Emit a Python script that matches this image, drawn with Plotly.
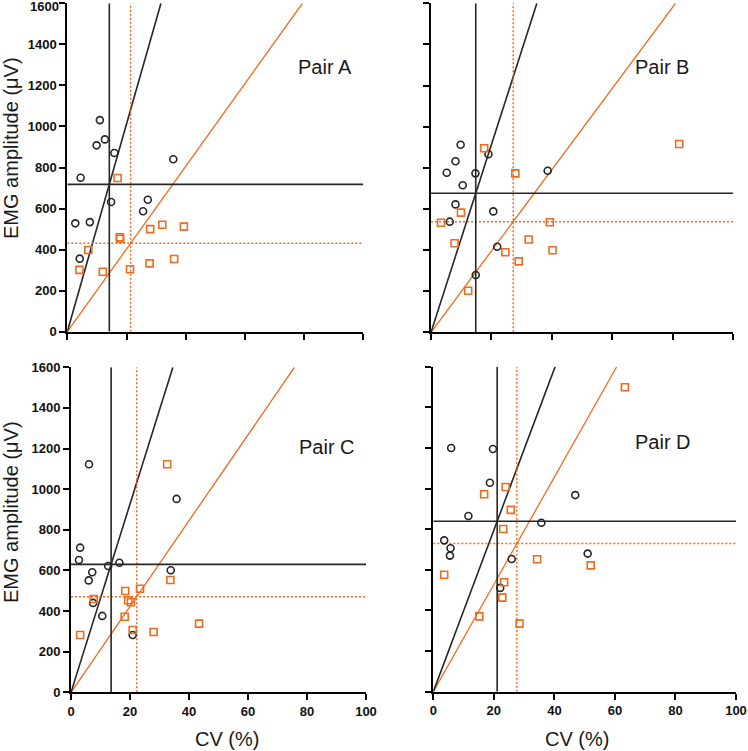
import plotly.graph_objects as go

W, H = 748, 751

# ---------------- data ----------------
panel_labels = ["Pair A", "Pair B", "Pair C", "Pair D"]
x_ticks = [0, 20, 40, 60, 80, 100]
y_ticks = [0, 200, 400, 600, 800, 1000, 1200, 1400, 1600]

# Pair A
a_circ_cv = [11.0, 12.7, 9.9, 15.9, 35.8, 4.5, 14.8, 27.2, 25.6, 2.7, 7.6, 4.2]
a_circ_amp = [1031, 937, 908, 871, 840, 750, 632, 643, 587, 528, 534, 356]
a_sq_cv = [17.0, 17.9, 17.7, 7.1, 28.0, 32.1, 39.4, 4.1, 12.0, 21.2, 27.8, 36.1]
a_sq_amp = [749, 453, 460, 398, 500, 521, 512, 301, 292, 304, 333, 354]
a_mean_black = (14.2, 718)
a_mean_orange = (21.4, 431)

# Pair B
b_circ_cv = [9.8, 19.0, 8.1, 5.2, 14.7, 38.6, 10.5, 8.1, 20.6, 6.2, 21.9, 14.8]
b_circ_amp = [912, 866, 832, 776, 773, 786, 715, 622, 588, 538, 416, 279]
b_sq_cv = [17.6, 27.9, 82.1, 9.9, 3.3, 39.3, 7.8, 32.3, 24.6, 40.2, 29.0, 12.3]
b_sq_amp = [895, 773, 916, 582, 533, 535, 433, 451, 389, 399, 345, 202]
b_mean_black = (14.8, 676)
b_mean_orange = (27.2, 538)

# Pair C
c_circ_cv = [6.1, 35.8, 3.1, 2.7, 16.4, 12.6, 33.8, 7.2, 6.0, 7.5, 10.6, 20.9]
c_circ_amp = [1123, 952, 712, 651, 638, 622, 601, 591, 551, 440, 376, 282]
c_sq_cv = [32.6, 33.7, 23.4, 18.4, 7.7, 19.4, 20.3, 18.2, 20.9, 28.0, 43.4, 3.1]
c_sq_amp = [1123, 553, 510, 499, 459, 453, 443, 372, 307, 297, 338, 282]
c_mean_black = (13.6, 630)
c_mean_orange = (22.3, 471)

# Pair D
d_circ_cv = [5.9, 19.7, 18.7, 46.9, 11.6, 35.7, 3.6, 5.7, 5.5, 51.0, 25.9, 22.1]
d_circ_amp = [1200, 1195, 1029, 968, 865, 832, 745, 706, 670, 680, 653, 511]
d_sq_cv = [63.3, 23.9, 16.8, 25.6, 23.1, 34.3, 52.0, 3.6, 23.4, 22.8, 15.2, 28.5]
d_sq_amp = [1499, 1008, 972, 895, 801, 652, 622, 576, 539, 463, 371, 335]
d_mean_black = (21.1, 839)
d_mean_orange = (27.6, 729)

panels = [
    (a_circ_cv, a_circ_amp, a_sq_cv, a_sq_amp, a_mean_black, a_mean_orange),
    (b_circ_cv, b_circ_amp, b_sq_cv, b_sq_amp, b_mean_black, b_mean_orange),
    (c_circ_cv, c_circ_amp, c_sq_cv, c_sq_amp, c_mean_black, c_mean_orange),
    (d_circ_cv, d_circ_amp, d_sq_cv, d_sq_amp, d_mean_black, d_mean_orange),
]
label_pos = [(87, 1291), (76.5, 1292), (86.7, 1209), (76, 1231)]

# ---------------- layout geometry (pixels) ----------------
px_x = [(67.3, 363.3), (431.0, 733.3), (71.0, 366.0), (433.3, 736.0)]
px_y = [(3.3, 331.7), (3.3, 332.3), (367.3, 692.3), (366.7, 691.7)]

BLACK = "#262626"
ORANGE = "#F06A1E"
XMAX, YMAX = 100, 1600

fig = go.Figure()

for i, (ccv, camp, scv, samp, mb, mo) in enumerate(panels):
    xa = "x" if i == 0 else f"x{i+1}"
    ya = "y" if i == 0 else f"y{i+1}"
    fig.add_trace(go.Scatter(x=[0, YMAX * mo[0] / mo[1]], y=[0, YMAX], mode="lines",
                             line=dict(color=ORANGE, width=1.3), xaxis=xa, yaxis=ya,
                             showlegend=False, hoverinfo="skip"))
    fig.add_trace(go.Scatter(x=[0, YMAX * mb[0] / mb[1]], y=[0, YMAX], mode="lines",
                             line=dict(color=BLACK, width=1.6), xaxis=xa, yaxis=ya,
                             showlegend=False, hoverinfo="skip"))
    fig.add_trace(go.Scatter(x=[mo[0], mo[0]], y=[0, YMAX], mode="lines",
                             line=dict(color=ORANGE, width=1.5, dash="2px,2px"),
                             xaxis=xa, yaxis=ya, showlegend=False, hoverinfo="skip"))
    fig.add_trace(go.Scatter(x=[0, XMAX], y=[mo[1], mo[1]], mode="lines",
                             line=dict(color=ORANGE, width=1.5, dash="2px,2px"),
                             xaxis=xa, yaxis=ya, showlegend=False, hoverinfo="skip"))
    fig.add_trace(go.Scatter(x=[mb[0], mb[0]], y=[0, YMAX], mode="lines",
                             line=dict(color=BLACK, width=1.6),
                             xaxis=xa, yaxis=ya, showlegend=False, hoverinfo="skip"))
    fig.add_trace(go.Scatter(x=[0, XMAX], y=[mb[1], mb[1]], mode="lines",
                             line=dict(color=BLACK, width=1.6),
                             xaxis=xa, yaxis=ya, showlegend=False, hoverinfo="skip"))
    fig.add_trace(go.Scatter(x=ccv, y=camp, mode="markers",
                             marker=dict(symbol="circle-open", size=7, color=BLACK,
                                         line=dict(width=1.6, color=BLACK)),
                             xaxis=xa, yaxis=ya, showlegend=False))
    fig.add_trace(go.Scatter(x=scv, y=samp, mode="markers",
                             marker=dict(symbol="square-open", size=7, color=ORANGE,
                                         line=dict(width=1.6, color=ORANGE)),
                             xaxis=xa, yaxis=ya, showlegend=False))
    fig.add_annotation(x=label_pos[i][0], y=label_pos[i][1], xref=xa, yref=ya,
                       text=panel_labels[i], showarrow=False,
                       font=dict(family="Arial, Liberation Sans", size=20, color="#1a1a1a"))

tickfont = dict(family="Liberation Sans, Arial", size=13, color="#111", weight=700)
y_ticktext = [str(v) for v in y_ticks]
# top-left panel: the topmost label is drawn as an annotation so it stays inside the page
y_ticktext_top = y_ticktext[:-1] + [""]

layout = dict(width=W, height=H, margin=dict(l=0, r=0, t=0, b=0, autoexpand=False),
              paper_bgcolor="white", plot_bgcolor="white")
for i in range(4):
    xk = "xaxis" if i == 0 else f"xaxis{i+1}"
    yk = "yaxis" if i == 0 else f"yaxis{i+1}"
    ya = "y" if i == 0 else f"y{i+1}"
    xa = "x" if i == 0 else f"x{i+1}"
    x0, x1 = px_x[i]
    y0, y1 = px_y[i]
    layout[xk] = dict(domain=[x0 / W, x1 / W], range=[0, XMAX], anchor=ya,
                      showline=True, linecolor="black", linewidth=2,
                      ticks="outside", ticklen=6, tickwidth=2, tickcolor="black",
                      tickvals=x_ticks, showgrid=False, zeroline=False,
                      showticklabels=(i >= 2), tickfont=tickfont, automargin=False,
                      ticklabeloverflow="allow")
    layout[yk] = dict(domain=[1 - y1 / H, 1 - y0 / H], range=[0, YMAX], anchor=xa,
                      showline=True, linecolor="black", linewidth=2,
                      ticks="outside", ticklen=6, tickwidth=2, tickcolor="black",
                      tickvals=y_ticks,
                      ticktext=(y_ticktext_top if i == 0 else y_ticktext),
                      showgrid=False, zeroline=False,
                      showticklabels=(i % 2 == 0), tickfont=tickfont, automargin=False,
                      ticklabeloverflow="allow")
fig.update_layout(**layout)

fig.add_annotation(x=59.5 / W, y=1.0, xref="paper", yref="paper", text=y_ticktext[-1],
                   showarrow=False, xanchor="right", yanchor="top",
                   font=tickfont, borderpad=0, yshift=2)

title_font = dict(family="Arial, Liberation Sans", size=20, color="#1a1a1a")
for (xc, yc) in [(227, 739), (577, 739)]:
    fig.add_annotation(x=xc / W, y=1 - yc / H, xref="paper", yref="paper",
                       text="CV (%)", showarrow=False, font=title_font,
                       xanchor="center", yanchor="middle")
for (xc, yc) in [(11, 148), (11, 512)]:
    fig.add_annotation(x=xc / W, y=1 - yc / H, xref="paper", yref="paper",
                       text="EMG amplitude (μV)", showarrow=False, font=title_font,
                       textangle=-90, xanchor="center", yanchor="middle")

fig.write_html("out.html", config={"displayModeBar": False},
               post_script="document.body.style.margin='0';document.body.style.overflow='hidden';")
